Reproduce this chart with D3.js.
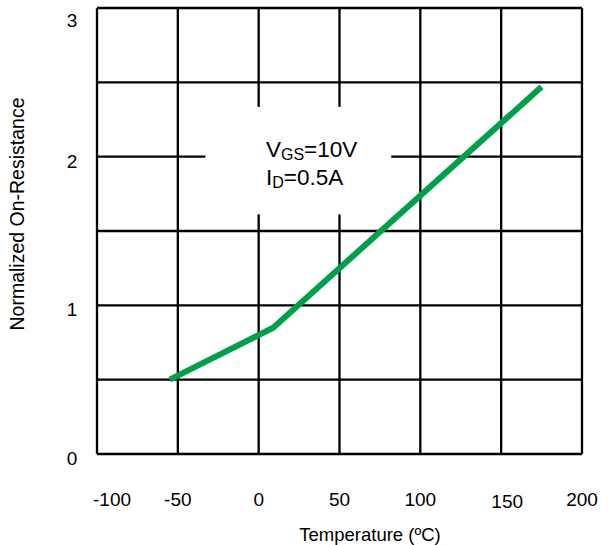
<!DOCTYPE html>
<html>
<head>
<meta charset="utf-8">
<script src="https://cdn.jsdelivr.net/npm/d3@7"></script>
<style>
  html, body { margin: 0; padding: 0; background: #fff; }
  svg text { font-family: "Liberation Sans", Arial, sans-serif; fill: #000; }
</style>
</head>
<body>
<div id="chart"></div>
<script>
// données
const temperature = [-55, 9, 175];
const resistance = [0.50, 0.85, 2.47];
const xTicks = [-100, -50, 0, 50, 100, 150, 200];
const yTicks = [0, 1, 2, 3];
const yGrid = [0, 0.5, 1, 1.5, 2, 2.5, 3];

const W = 614, H = 545;
const margin = { top: 8, right: 32, bottom: 91, left: 97 };
const width = W - margin.left - margin.right;
const height = H - margin.top - margin.bottom;

const svg = d3.select("#chart").append("svg")
    .attr("width", W)
    .attr("height", H);

const g = svg.append("g")
    .attr("transform", `translate(${margin.left},${margin.top})`);

const x = d3.scaleLinear().domain([-100, 200]).range([0, width]);
const y = d3.scaleLinear().domain([0, 3]).range([height, 0]);

// grille
g.selectAll(".vgrid")
    .data(xTicks)
    .enter().append("line")
    .attr("x1", d => x(d)).attr("x2", d => x(d))
    .attr("y1", 0).attr("y2", height)
    .attr("stroke", "#000").attr("stroke-width", 2.3);

g.selectAll(".hgrid")
    .data(yGrid)
    .enter().append("line")
    .attr("x1", 0).attr("x2", width)
    .attr("y1", d => y(d)).attr("y2", d => y(d))
    .attr("stroke", "#000").attr("stroke-width", 2.3);

// fond blanc de l'annotation (cache la grille)
g.append("rect")
    .attr("x", x(-33)).attr("y", y(2.335))
    .attr("width", x(82) - x(-33))
    .attr("height", y(1.612) - y(2.335))
    .attr("fill", "#fff");

// courbe
const line = d3.line()
    .x((d, i) => x(temperature[i]))
    .y(d => y(d));

g.append("path")
    .datum(resistance)
    .attr("fill", "none")
    .attr("stroke", "#00a04b")
    .attr("stroke-width", 6)
    .attr("stroke-linejoin", "miter")
    .attr("d", line);

// étiquettes des axes
const xNudge = { "-100": [15, 0], "150": [6, 2] };
g.selectAll(".xlab")
    .data(xTicks)
    .enter().append("text")
    .attr("x", d => x(d) + (xNudge[d] ? xNudge[d][0] : 0))
    .attr("y", d => height + 52 + (xNudge[d] ? xNudge[d][1] : 0))
    .attr("text-anchor", "middle")
    .attr("font-size", 19)
    .text(d => d);

g.selectAll(".ylab")
    .data(yTicks)
    .enter().append("text")
    .attr("x", -25)
    .attr("y", d => Math.max(y(d) + 11, 19))
    .attr("text-anchor", "middle")
    .attr("font-size", 19)
    .text(d => d);

svg.append("text")
    .attr("x", 370)
    .attr("y", 541)
    .attr("text-anchor", "middle")
    .attr("font-size", 18.5)
    .text("Temperature (ºC)");

svg.append("text")
    .attr("transform", "translate(24,214) rotate(-90)")
    .attr("text-anchor", "middle")
    .attr("font-size", 19.5)
    .text("Normalized On-Resistance");

// annotation
const ann = g.append("text")
    .attr("x", x(4.5))
    .attr("y", y(1.995))
    .attr("font-size", 22.5);
ann.append("tspan").text("V");
ann.append("tspan").attr("font-size", 16).attr("dy", 3).text("GS");
ann.append("tspan").attr("dy", -3).text("=10V");

const ann2 = g.append("text")
    .attr("x", x(4.5))
    .attr("y", y(1.81))
    .attr("font-size", 22.5);
ann2.append("tspan").text("I");
ann2.append("tspan").attr("font-size", 16).attr("dy", 3).text("D");
ann2.append("tspan").attr("dy", -3).text("=0.5A");
</script>
</body>
</html>
